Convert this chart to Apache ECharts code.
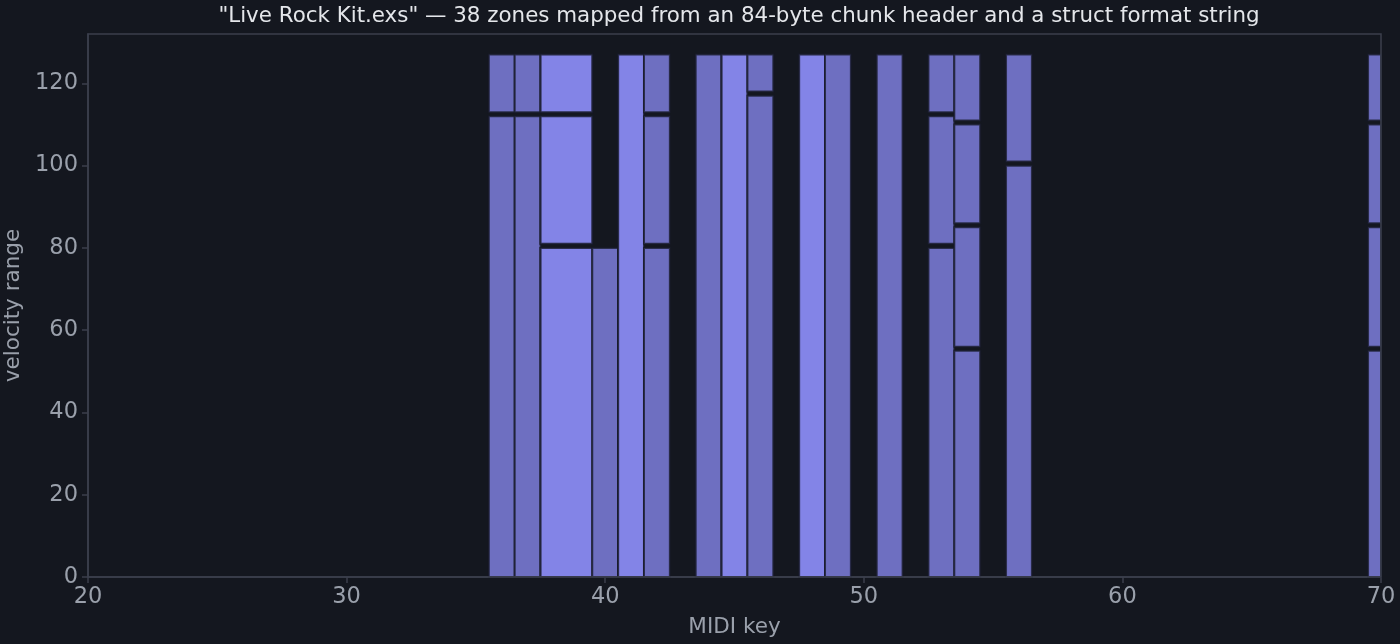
<!DOCTYPE html>
<html>
<head>
<meta charset="utf-8">
<script src="https://cdn.jsdelivr.net/npm/echarts@6/dist/echarts.min.js"></script>
<style>
  html, body { margin: 0; padding: 0; background: #14171f; }
  #chart { width: 1400px; height: 644px; }
</style>
</head>
<body>
<div id="chart"></div>
<script>
// zones: key low, key high, velocity low, velocity high
var keyLo = [36, 36, 37, 37, 38, 38, 38, 38, 38, 38, 40, 41, 41, 42, 42, 42, 44, 45, 45, 46, 46, 48, 48, 49, 51, 53, 53, 53, 54, 54, 54, 54, 56, 56, 70, 70, 70, 70];
var keyHi = [36, 36, 37, 37, 39, 39, 39, 39, 39, 39, 40, 41, 41, 42, 42, 42, 44, 45, 45, 46, 46, 48, 48, 49, 51, 53, 53, 53, 54, 54, 54, 54, 56, 56, 70, 70, 70, 70];
var velLo = [0, 113, 0, 113, 0, 81, 113, 0, 81, 113, 0, 0, 0, 0, 81, 113, 0, 0, 0, 0, 118, 0, 0, 0, 0, 0, 81, 113, 0, 56, 86, 111, 0, 101, 0, 56, 86, 111];
var velHi = [112, 127, 112, 127, 80, 112, 127, 80, 112, 127, 80, 127, 127, 80, 112, 127, 127, 127, 127, 117, 127, 127, 127, 127, 127, 80, 112, 127, 55, 85, 110, 127, 100, 127, 55, 85, 110, 127];
var xTicks = [20, 30, 40, 50, 60, 70];
var yTicks = [0, 20, 40, 60, 80, 100, 120];

var zoneData = keyLo.map(function (k, i) {
    return [keyLo[i], keyHi[i], velLo[i], velHi[i]];
});

var chart = echarts.init(document.getElementById('chart'));
var axisColor = '#3b3f4c';
var textColor = '#9aa0ab';
var font = 'DejaVu Sans';

function renderZone(params, api) {
    var p0 = api.coord([api.value(0) - 0.5, api.value(3)]);
    var p1 = api.coord([api.value(1) + 0.5, api.value(2)]);
    var shape = echarts.graphic.clipRectByRect({
        x: p0[0], y: p0[1], width: p1[0] - p0[0], height: p1[1] - p0[1]
    }, {
        x: params.coordSys.x, y: params.coordSys.y,
        width: params.coordSys.width, height: params.coordSys.height
    });
    if (!shape) return;
    return {
        type: 'rect',
        shape: shape,
        style: {
            fill: '#8a8af2',
            stroke: '#181a28',
            lineWidth: 2,
            opacity: 0.77
        }
    };
}

chart.setOption({
    backgroundColor: '#14171f',
    animation: false,
    title: {
        text: '"Live Rock Kit.exs" \u2014 38 zones mapped from an 84-byte chunk header and a struct format string',
        left: 734,
        top: 1,
        textAlign: 'center',
        textStyle: { color: '#e4e6ea', fontSize: 21.4, fontWeight: 'normal', fontFamily: font }
    },
    grid: { left: 88, right: 19, top: 34, bottom: 67, outerBoundsMode: 'none', containLabel: false },
    xAxis: {
        type: 'value',
        min: 20,
        max: 70,
        interval: 10,
        name: 'MIDI key',
        nameLocation: 'middle',
        nameGap: 39,
        nameTextStyle: { color: textColor, fontSize: 21.5, fontFamily: font },
        axisLine: { show: true, lineStyle: { color: axisColor, width: 1.5 } },
        axisTick: { show: true, length: 6, customValues: xTicks, lineStyle: { color: axisColor, width: 1.5 } },
        axisLabel: { color: textColor, fontSize: 22.5, fontFamily: font, margin: 9, customValues: xTicks },
        splitLine: { show: false }
    },
    yAxis: {
        type: 'value',
        min: 0,
        max: 132,
        interval: 20,
        name: 'velocity range',
        nameLocation: 'middle',
        nameGap: 62,
        nameTextStyle: { color: textColor, fontSize: 21.5, fontFamily: font },
        axisLine: { show: true, lineStyle: { color: axisColor, width: 1.5 } },
        axisTick: { show: true, length: 6, customValues: yTicks, lineStyle: { color: axisColor, width: 1.5 } },
        axisLabel: { color: textColor, fontSize: 22.5, fontFamily: font, margin: 10, customValues: yTicks },
        splitLine: { show: false }
    },
    graphic: [{
        type: 'rect',
        shape: { x: 88, y: 34, width: 1293, height: 543 },
        style: { fill: 'none', stroke: axisColor, lineWidth: 1.5 },
        silent: true,
        z: 10
    }],
    series: [{
        type: 'custom',
        renderItem: renderZone,
        encode: { x: [0, 1], y: [2, 3] },
        data: zoneData
    }]
});
</script>
</body>
</html>
